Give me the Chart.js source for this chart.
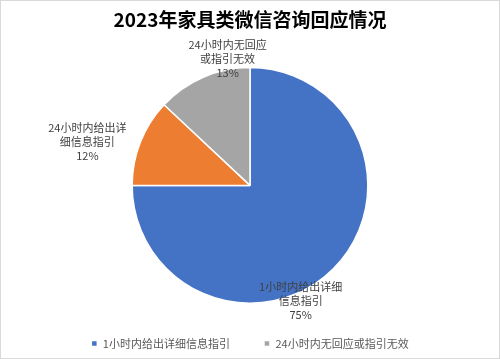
<!DOCTYPE html>
<html>
<head>
<meta charset="utf-8">
<script src="https://cdn.jsdelivr.net/npm/chart.js@4/dist/chart.umd.min.js"></script>
<style>
  html, body { margin: 0; padding: 0; background: #fff; }
  #wrap { width: 498px; height: 357px; border: 1px solid #d9d9d9; position: relative; }
</style>
</head>
<body>
<div id="wrap"><canvas id="pieChart"></canvas></div>
<script>
// chart data
let categories = ["1小时内给出详细信息指引", "24小时内给出详细信息指引", "24小时内无回应或指引无效"];
let labelLines = [["1小时内给出详细", "信息指引"], ["24小时内给出详", "细信息指引"], ["24小时内无回应", "或指引无效"]];
let shares = [75, 12, 13];
let colors = ["#4472c4", "#ed7d31", "#a5a5a5"];

// where each data label sits, relative to the pie centre (in radii)
let labelOffsets = [[0.43, 0.98], [-1.38, -0.37], [-0.19, -1.07]];

let fontFamily = "'Noto Sans CJK SC', 'Noto Sans', sans-serif";

// draws category name + percent next to each slice, like Excel data labels
let sliceLabels = {
    id: "sliceLabels",
    afterDatasetsDraw(chart) {
        let ctx = chart.ctx;
        let meta = chart.getDatasetMeta(0);
        ctx.save();
        ctx.font = "11px " + fontFamily;
        ctx.fillStyle = "#404040";
        ctx.textAlign = "center";
        ctx.textBaseline = "middle";
        meta.data.forEach(function (arc, i) {
            let r = arc.outerRadius;
            let cx = arc.x + labelOffsets[i][0] * r;
            let cy = arc.y + labelOffsets[i][1] * r;
            let lines = labelLines[i].concat([shares[i] + "%"]);
            let lh = 14;
            let y0 = cy - (lines.length - 1) * lh / 2;
            lines.forEach(function (t, k) {
                ctx.fillText(t, cx, y0 + k * lh);
            });
        });
        ctx.restore();
    }
};

new Chart("pieChart", {
    type: "pie",
    data: {
        labels: categories,
        datasets: [{
            data: shares,
            backgroundColor: colors,
            borderColor: "#ffffff",
            borderWidth: 1.5
        }]
    },
    options: {
        responsive: true,
        maintainAspectRatio: false,
        animation: false,
        layout: { padding: { top: 0, bottom: -1, left: 0, right: 0 } },
        plugins: {
            title: {
                display: true,
                text: "2023年家具类微信咨询回应情况",
                color: "#000000",
                font: { size: 19, weight: "bold", family: fontFamily },
                padding: { top: 7, bottom: 36 }
            },
            legend: {
                position: "bottom",
                labels: {
                    color: "#595959",
                    font: { size: 11, family: fontFamily },
                    boxWidth: 6,
                    boxHeight: 6,
                    padding: 34,
                    // the orange item is not shown in the original legend
                    filter: function (item) { return item.index !== 1; }
                }
            },
            tooltip: { enabled: false }
        }
    },
    plugins: [sliceLabels]
});
</script>
</body>
</html>
